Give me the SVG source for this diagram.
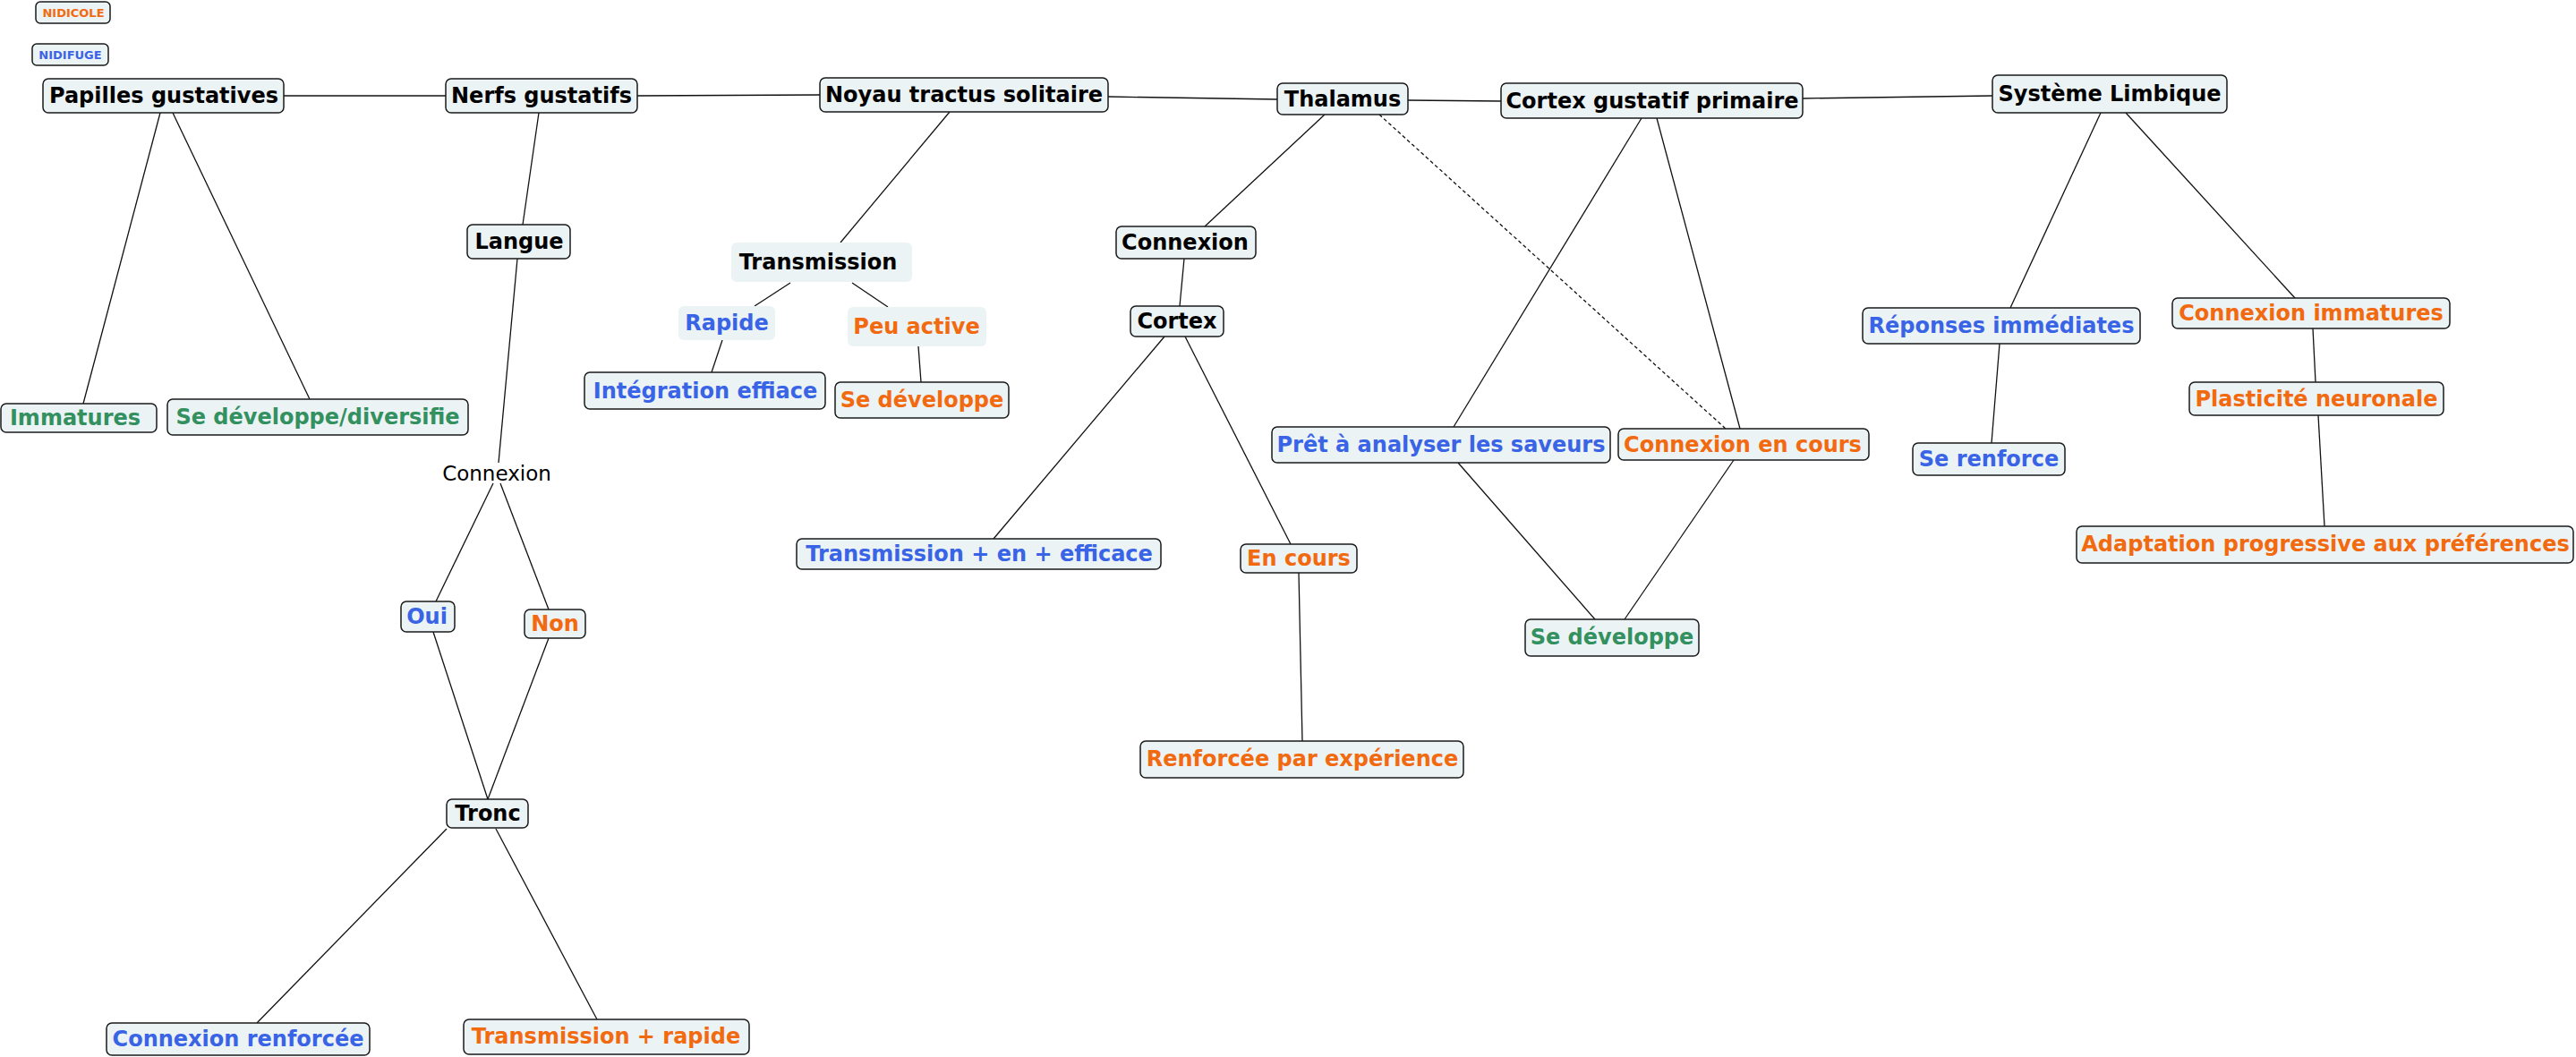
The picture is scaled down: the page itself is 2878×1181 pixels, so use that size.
<svg xmlns="http://www.w3.org/2000/svg" width="2878" height="1181" viewBox="0 0 2878 1181">
<style>
.b{fill:#ecf3f5;stroke:#1a1a1a;stroke-width:1.5}
.nb{fill:#ecf3f5;stroke:none}
text{font-family:"DejaVu Sans","Liberation Sans",sans-serif;font-weight:bold;font-size:24px;text-anchor:middle}
.k{fill:#000}
.bl{fill:#3a64e6}
.or{fill:#f26a10}
.gr{fill:#33905f}
.sm{font-size:13px}
.reg{font-weight:normal;font-size:23px}
.c line{stroke:#111;stroke-width:1.3}
.c line.d{stroke-dasharray:4 3}
</style>
<g class="c" id="connectors">
<line x1="317" y1="107" x2="498" y2="107"/>
<line x1="712" y1="107" x2="916" y2="106"/>
<line x1="1238" y1="108" x2="1427" y2="111"/>
<line x1="1573" y1="112" x2="1677" y2="113"/>
<line x1="2014" y1="110" x2="2226" y2="107"/>
<line x1="179" y1="126" x2="93" y2="451"/>
<line x1="193" y1="126" x2="346" y2="446"/>
<line x1="602" y1="126" x2="584" y2="251"/>
<line x1="578" y1="289" x2="557" y2="517"/>
<line x1="551" y1="540" x2="487" y2="672"/>
<line x1="559" y1="540" x2="613" y2="681"/>
<line x1="484" y1="706" x2="545" y2="893"/>
<line x1="613" y1="713" x2="545" y2="893"/>
<line x1="499" y1="926" x2="287" y2="1143"/>
<line x1="554" y1="926" x2="667" y2="1139"/>
<line x1="1061" y1="125" x2="939" y2="271"/>
<line x1="883" y1="316" x2="843" y2="342"/>
<line x1="952" y1="316" x2="992" y2="343"/>
<line x1="807" y1="380" x2="795" y2="416"/>
<line x1="1026" y1="387" x2="1029" y2="427"/>
<line x1="1480" y1="128" x2="1346" y2="253"/>
<line x1="1323" y1="289" x2="1318" y2="342"/>
<line x1="1301" y1="376" x2="1110" y2="602"/>
<line x1="1324" y1="376" x2="1442" y2="608"/>
<line x1="1451" y1="640" x2="1455" y2="828"/>
<line class="d" x1="1541" y1="128" x2="1928" y2="479"/>
<line x1="1834" y1="132" x2="1624" y2="477"/>
<line x1="1851" y1="132" x2="1944" y2="479"/>
<line x1="1629" y1="517" x2="1782" y2="692"/>
<line x1="1937" y1="514" x2="1815" y2="692"/>
<line x1="2347" y1="126" x2="2246" y2="344"/>
<line x1="2375" y1="126" x2="2564" y2="333"/>
<line x1="2234" y1="384" x2="2225" y2="495"/>
<line x1="2584" y1="367" x2="2587" y2="427"/>
<line x1="2590" y1="464" x2="2597" y2="588"/>
</g>
<g id="n-nidicole"><rect class="b" x="40" y="2" width="83" height="24" rx="5"/><text class="or sm" x="82" y="19">NIDICOLE</text></g>
<g id="n-nidifuge"><rect class="b" x="36" y="49" width="85" height="24" rx="5"/><text class="bl sm" x="78.5" y="66">NIDIFUGE</text></g>
<g id="n-papilles"><rect class="b" x="48" y="88" width="269" height="38" rx="6"/><text class="k" x="183" y="115">Papilles gustatives</text></g>
<g id="n-nerfs"><rect class="b" x="498" y="88" width="214" height="38" rx="6"/><text class="k" x="605" y="115">Nerfs gustatifs</text></g>
<g id="n-noyau"><rect class="b" x="916" y="87" width="322" height="38" rx="6"/><text class="k" x="1077" y="114">Noyau tractus solitaire</text></g>
<g id="n-thalamus"><rect class="b" x="1427" y="93" width="146" height="35" rx="6"/><text class="k" x="1500" y="119">Thalamus</text></g>
<g id="n-cortexgp"><rect class="b" x="1677" y="93" width="337" height="39" rx="6"/><text class="k" x="1846" y="121">Cortex gustatif primaire</text></g>
<g id="n-systeme"><rect class="b" x="2226" y="84" width="262" height="42" rx="6"/><text class="k" x="2357" y="113">Système Limbique</text></g>
<g id="n-langue"><rect class="b" x="522" y="251" width="115" height="38" rx="6"/><text class="k" x="580" y="278">Langue</text></g>
<g id="n-transmission"><rect class="nb" x="817" y="271" width="202" height="44" rx="6"/><text class="k" x="914" y="301">Transmission</text></g>
<g id="n-rapide"><rect class="nb" x="758" y="342" width="108" height="38" rx="6"/><text class="bl" x="812" y="369">Rapide</text></g>
<g id="n-peuactive"><rect class="nb" x="947" y="343" width="155" height="44" rx="6"/><text class="or" x="1024" y="373">Peu active</text></g>
<g id="n-integration"><rect class="b" x="653" y="416" width="269" height="41" rx="6"/><text class="bl" x="788" y="445">Intégration effiace</text></g>
<g id="n-sedev-or"><rect class="b" x="933" y="427" width="194" height="40" rx="6"/><text class="or" x="1030" y="455">Se développe</text></g>
<g id="n-connexion"><rect class="b" x="1247" y="253" width="156" height="36" rx="6"/><text class="k" x="1324" y="279">Connexion</text></g>
<g id="n-cortex"><rect class="b" x="1263" y="342" width="104" height="34" rx="6"/><text class="k" x="1315" y="367">Cortex</text></g>
<g id="n-transeff"><rect class="b" x="890" y="602" width="407" height="34" rx="6"/><text class="bl" x="1094" y="627">Transmission + en + efficace</text></g>
<g id="n-encours"><rect class="b" x="1386" y="608" width="130" height="32" rx="6"/><text class="or" x="1451" y="632">En cours</text></g>
<g id="n-renforcee"><rect class="b" x="1274" y="828" width="361" height="41" rx="6"/><text class="or" x="1455" y="856">Renforcée par expérience</text></g>
<g id="n-pret"><rect class="b" x="1421" y="477" width="378" height="40" rx="6"/><text class="bl" x="1610" y="505">Prêt à analyser les saveurs</text></g>
<g id="n-connencours"><rect class="b" x="1808" y="479" width="280" height="35" rx="6"/><text class="or" x="1947" y="505">Connexion en cours</text></g>
<g id="n-sedev-gr"><rect class="b" x="1704" y="692" width="194" height="41" rx="6"/><text class="gr" x="1801" y="720">Se développe</text></g>
<g id="n-reponses"><rect class="b" x="2081" y="344" width="310" height="40" rx="6"/><text class="bl" x="2236" y="372">Réponses immédiates</text></g>
<g id="n-serenforce"><rect class="b" x="2137" y="495" width="170" height="36" rx="6"/><text class="bl" x="2222" y="521">Se renforce</text></g>
<g id="n-connimm"><rect class="b" x="2427" y="333" width="310" height="34" rx="6"/><text class="or" x="2582" y="358">Connexion immatures</text></g>
<g id="n-plasticite"><rect class="b" x="2446" y="427" width="284" height="37" rx="6"/><text class="or" x="2588" y="454">Plasticité neuronale</text></g>
<g id="n-adaptation"><rect class="b" x="2320" y="588" width="555" height="41" rx="6"/><text class="or" x="2598" y="616">Adaptation progressive aux préférences</text></g>
<g id="n-immatures"><rect class="b" x="1" y="451" width="174" height="32" rx="6"/><text class="gr" x="84" y="475">Immatures</text></g>
<g id="n-sedevdiv"><rect class="b" x="187" y="446" width="336" height="40" rx="6"/><text class="gr" x="355" y="474">Se développe/diversifie</text></g>
<g id="n-connexion-label"><text class="k reg" x="555" y="537">Connexion</text></g>
<g id="n-oui"><rect class="b" x="448" y="672" width="60" height="34" rx="6"/><text class="bl" x="477" y="697">Oui</text></g>
<g id="n-non"><rect class="b" x="586" y="681" width="68" height="32" rx="6"/><text class="or" x="620" y="705">Non</text></g>
<g id="n-tronc"><rect class="b" x="499" y="893" width="91" height="32" rx="6"/><text class="k" x="545" y="917">Tronc</text></g>
<g id="n-connrenf"><rect class="b" x="119" y="1143" width="294" height="36" rx="6"/><text class="bl" x="266" y="1169">Connexion renforcée</text></g>
<g id="n-transrapide"><rect class="b" x="518" y="1139" width="319" height="39" rx="6"/><text class="or" x="677" y="1166">Transmission + rapide</text></g>
</svg>
